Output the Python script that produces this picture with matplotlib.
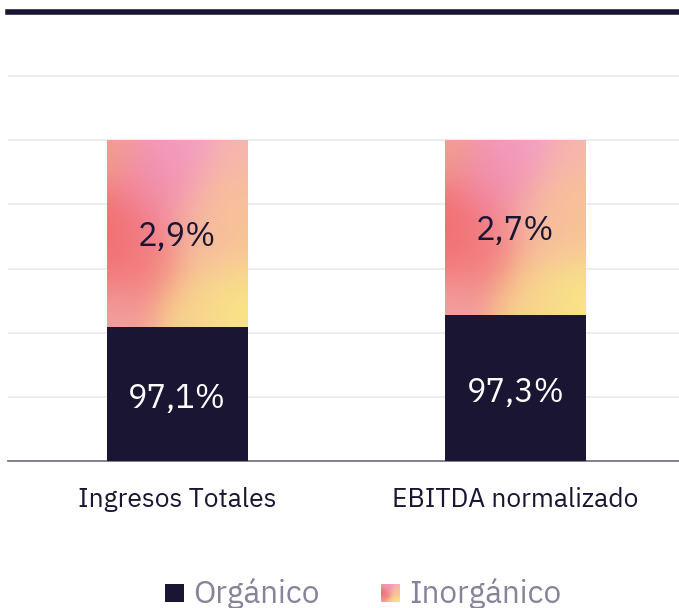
import numpy as np
import matplotlib
matplotlib.use("Agg")
import matplotlib.pyplot as plt
from matplotlib.colors import to_rgb

categories = ["Ingresos Totales", "EBITDA normalizado"]
organico_pct = ["97,1%", "97,3%"]
inorganico_pct = ["2,9%", "2,7%"]
# visual segment heights (grid units) as drawn in the reference
organico_h = [2.09, 2.28]
inorganico_h = [2.91, 2.72]
legend_labels = ["Orgánico", "Inorgánico"]

DARK = "#1a1533"
FONT = ["IBM Plex Sans", "Open Sans", "DejaVu Sans"]
plt.rcParams['font.family'] = FONT


def gradient_img(h=200, w=150):
    v, u = np.mgrid[0:1:h * 1j, 0:1:w * 1j]
    pts = [
        (0.5, 0.0, "#f4a0c8"),
        (0.0, 0.0, "#f2a08e"),
        (1.0, 0.0, "#f6b4b0"),
        (0.35, 0.22, "#f08aac"),
        (0.0, 0.5, "#f26a6a"),
        (0.25, 0.62, "#f27c80"),
        (1.0, 0.4, "#f8c494"),
        (0.7, 0.45, "#f6bca0"),
        (0.95, 0.95, "#f9e486"),
        (0.6, 0.95, "#f7d48e"),
        (0.05, 1.0, "#f2a0a0"),
    ]
    num = np.zeros((h, w, 3))
    den = np.zeros((h, w))
    for (px, py, c) in pts:
        d2 = (u - px) ** 2 + (v - py) ** 2
        wgt = np.exp(-d2 / 0.07)
        num += wgt[..., None] * np.array(to_rgb(c))
        den += wgt
    img = num / den[..., None]
    return np.clip(img, 0, 1)


fig = plt.figure(figsize=(6.79, 6.08), dpi=100)
W, H = 679, 608
ax = fig.add_axes([8 / W, (H - 461) / H, 671 / W, (461 - 12) / H])
x = np.arange(len(categories))
bw = 0.417

bars_o = ax.bar(x, organico_h, width=bw, color=DARK, zorder=3)
bars_i = ax.bar(x, inorganico_h, bottom=organico_h, width=bw, color="none", zorder=3)
img = gradient_img()
for b in bars_i:
    x0, y0 = b.get_x(), b.get_y()
    im = ax.imshow(img, extent=[x0, x0 + b.get_width(), y0, y0 + b.get_height()],
                   aspect="auto", zorder=3, interpolation="bilinear")
    im.set_clip_path(b)

for i in range(len(categories)):
    ax.annotate(organico_pct[i], (x[i], organico_h[i] / 2), xytext=(0, -3.5),
                textcoords="offset points", ha="center", va="center",
                color="white", fontsize=23.5, fontweight="semibold", zorder=5)
    ax.annotate(inorganico_pct[i], (x[i], organico_h[i] + inorganico_h[i] * 0.5),
                xytext=(0, -2.5), textcoords="offset points", ha="center",
                va="center", color=DARK, fontsize=23.5, zorder=5)

ax.set_xlim(-0.501, 1.484)
ax.set_ylim(0, 7)
ax.set_yticks(np.arange(1, 7))
ax.yaxis.grid(True, color="#efeced", linewidth=1.5, zorder=0)
ax.tick_params(axis="y", left=False, labelleft=False)
ax.tick_params(axis="x", bottom=False, labelsize=19, colors=DARK, pad=15.5)
ax.set_xticks(x)
ax.set_xticklabels(categories)
for s in ["left", "right"]:
    ax.spines[s].set_visible(False)
ax.spines["bottom"].set_color("#77758a")
ax.spines["bottom"].set_linewidth(1.3)
ax.spines["top"].set_color(DARK)
ax.spines["top"].set_linewidth(4)

# legend
sq1 = fig.add_axes([165 / W, (H - 602) / H, 19 / W, 18 / H])
sq1.set_facecolor(DARK)
sq1.set_xticks([]); sq1.set_yticks([])
for s in sq1.spines.values():
    s.set_visible(False)
sq2 = fig.add_axes([381 / W, (H - 602) / H, 19 / W, 18 / H])
sq2.imshow(gradient_img(40, 40), aspect="auto", interpolation="bilinear")
sq2.set_xticks([]); sq2.set_yticks([])
for s in sq2.spines.values():
    s.set_visible(False)
fig.text(193 / W, (H - 603) / H, legend_labels[0], fontsize=22.7, color="#85849a",
         ha="left", va="baseline")
fig.text(409 / W, (H - 603) / H, legend_labels[1], fontsize=22.7, color="#85849a",
         ha="left", va="baseline")

fig.savefig("out.png", dpi=100)
